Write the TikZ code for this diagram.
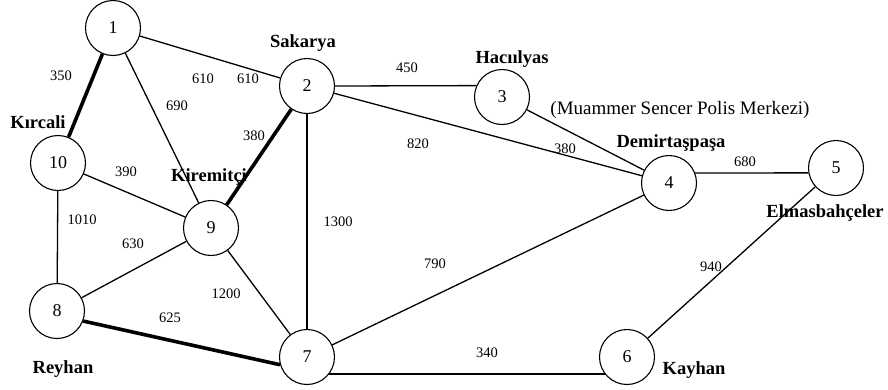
\documentclass[tikz,border=0pt]{standalone}
\usepackage{fontspec}
\setmainfont{Liberation Serif}
\begin{document}
\begin{tikzpicture}[x=1pt,y=-1pt,
  vertex/.style={circle,draw,line width=1.1pt,minimum size=55pt,inner sep=0pt,font=\fontsize{18}{20}\selectfont},
  edge/.style={line width=1.3pt},
  heavy/.style={line width=3.6pt},
  wt/.style={font=\fontsize{14.5}{16}\selectfont,inner sep=0pt},
  place/.style={font=\fontsize{18.5}{20}\selectfont\bfseries,inner sep=0pt}]
\useasboundingbox (0,0) rectangle (888,389);
% vertices
\node[vertex] (n1) at (113,28) {1};
\node[vertex] (n2) at (307,86) {2};
\node[vertex] (n3) at (502,97) {3};
\node[vertex] (n4) at (669,183) {4};
\node[vertex] (n5) at (836,168) {5};
\node[vertex] (n6) at (627,357) {6};
\node[vertex] (n7) at (307,357) {7};
\node[vertex] (n8) at (57,311) {8};
\node[vertex] (n9) at (211,228) {9};
\node[vertex] (n10) at (58,163) {10};
% edges
\draw[edge] (n1) -- (n2);
\draw[heavy] (n1) -- (n10);
\draw[edge] (n1) -- (n9);
\draw[edge] (n2.east) -- (n3.156);
\draw[edge] (n2) -- (n4);
\draw[heavy] (n2) -- (n9);
\draw[edge] (n2) -- (n7);
\draw[edge] (n3) -- (n4);
\draw[edge] (n4.21) -- (n5.190);
\draw[edge] (n5) -- (n6);
\draw[edge] (n4) -- (n7);
\draw[edge] (n7.-37) -- (n6.217);
\draw[edge] (n10) -- (n9);
\draw[edge] (n10) -- (n8);
\draw[edge] (n9) -- (n8);
\draw[edge] (n9) -- (n7);
\draw[heavy] (n8.-21) -- (n7.196);
% weights
\node[wt] (w350) at (61,76) {350};
\node[wt] (w610a) at (203,79) {610};
\node[wt] (w610b) at (248,79) {610};
\node[wt] (w690) at (177,106) {690};
\node[wt] (w380a) at (254,136) {380};
\node[wt] (w820) at (418,144) {820};
\node[wt] (w450) at (407,68) {450};
\node[wt] (w390) at (126,172) {390};
\node[wt] (w380b) at (565,149) {380};
\node[wt] (w680) at (745,162) {680};
\node[wt] (w1010) at (82,220) {1010};
\node[wt] (w630) at (133,244) {630};
\node[wt] (w1300) at (338,222) {1300};
\node[wt] (w790) at (435,264) {790};
\node[wt] (w1200) at (226,294) {1200};
\node[wt] (w625) at (170,318) {625};
\node[wt] (w940) at (711,267) {940};
\node[wt] (w340) at (487,353) {340};
% place names
\node[place] (pSak) at (303,43) {Sakarya};
\node[place] (pKir) at (38,122) {Kırcali};
\node[place] (pKrm) at (209,177) {Kiremitçi};
\node[place] (pHac) at (512,59) {Hacıılyas};
\node[inner sep=0pt,font=\fontsize{19}{21}\selectfont] (pMua) at (680,110) {(Muammer Sencer Polis Merkezi)};
\node[place] (pDem) at (671,143) {Demirtaşpaşa};
\node[place] (pRey) at (63,369) {Reyhan};
\node[place] (pKay) at (694,370) {Kayhan};
\node[place] (pElm) at (825,213) {Elmasbahçeler};
\end{tikzpicture}
\end{document}
